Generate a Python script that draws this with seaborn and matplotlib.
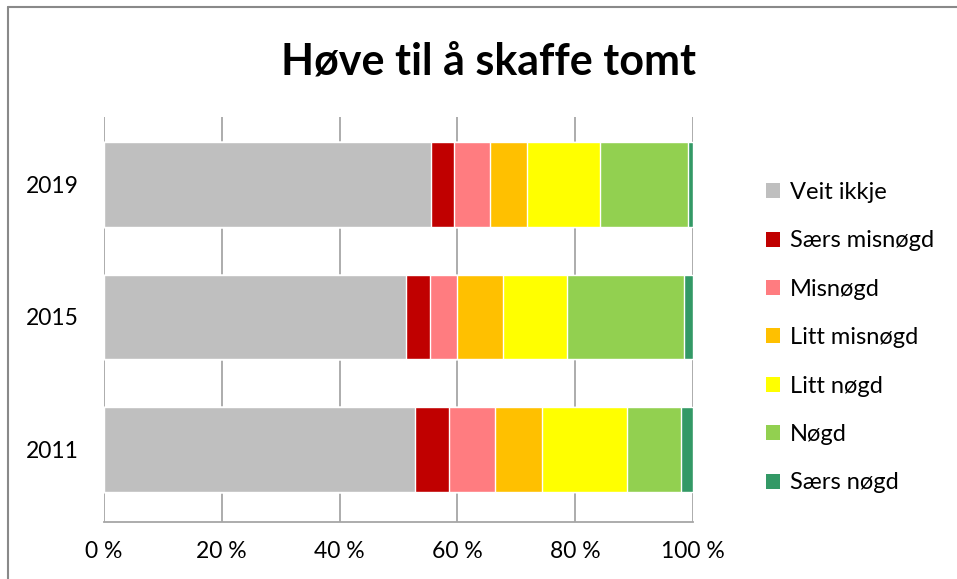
import numpy as np
import pandas as pd
import matplotlib.pyplot as plt
from matplotlib.patches import Patch
from matplotlib.lines import Line2D
import seaborn as sns

# Data (percent of respondents per year)
years = ["2019", "2015", "2011"]
categories = ["Veit ikkje", "Særs misnøgd", "Misnøgd", "Litt misnøgd",
              "Litt nøgd", "Nøgd", "Særs nøgd"]
colors = ["#bfbfbf", "#c00000", "#ff7c80", "#ffc000", "#ffff00", "#92d050", "#339966"]

veit_ikkje = [55.6, 51.3, 52.8]
saers_misnogd = [3.8, 4.0, 5.8]
misnogd = [6.1, 4.7, 7.8]
litt_misnogd = [6.3, 7.7, 8.0]
litt_nogd = [12.4, 10.9, 14.4]
nogd = [14.9, 19.8, 9.2]
saers_nogd = [0.9, 1.6, 2.0]

ticks = [0, 20, 40, 60, 80, 100]
tick_labels = ["0 %", "20 %", "40 %", "60 %", "80 %", "100 %"]

df = pd.DataFrame({
    "Year": years,
    "Veit ikkje": veit_ikkje,
    "Særs misnøgd": saers_misnogd,
    "Misnøgd": misnogd,
    "Litt misnøgd": litt_misnogd,
    "Litt nøgd": litt_nogd,
    "Nøgd": nogd,
    "Særs nøgd": saers_nogd,
})
# normalise each row to 100 %
vals = df[categories]
df[categories] = vals.div(vals.sum(axis=1), axis=0) * 100
cum = df[categories].cumsum(axis=1)

sns.set_style("white")
plt.rcParams["font.family"] = ["Lato", "DejaVu Sans"]
plt.rcParams["text.color"] = "black"
plt.rcParams["xtick.color"] = "black"
plt.rcParams["ytick.color"] = "black"

fig = plt.figure(figsize=(9.57, 5.79), dpi=100)
ax = fig.add_axes([104 / 957, 1 - 522 / 579, 589 / 957, 405 / 579])

# stacked bars: draw cumulative totals from the right-most segment back
for cat, col in reversed(list(zip(categories, colors))):
    sns.barplot(x=cum[cat], y=df["Year"], order=years, orient="h",
                color=col, saturation=1, width=0.64, ax=ax, zorder=2)

ax.set_xlim(0, 100)
ax.set_ylim(2.547, -0.509)
ax.set_xticks(ticks)
ax.set_xticklabels(tick_labels)
ax.set_xlabel("")
ax.set_ylabel("")
ax.xaxis.grid(True, color="#a6a6a6", linewidth=1.3)
ax.yaxis.grid(False)
ax.set_axisbelow(True)
for s in ["top", "right", "left"]:
    ax.spines[s].set_visible(False)
ax.spines["bottom"].set_color("#a6a6a6")
ax.spines["bottom"].set_linewidth(1.3)
ax.tick_params(axis="x", length=0, pad=14, labelsize=16.5)
ax.tick_params(axis="y", length=0, pad=18, labelsize=16.5)

fig.text(0.510, 1 - 62 / 579, "Høve til å skaffe tomt", ha="center", va="center",
         fontsize=31, fontweight="bold")

handles = [Patch(facecolor=c, edgecolor="none", label=l) for l, c in zip(categories, colors)]
fig.legend(handles=handles, loc="upper left", bbox_to_anchor=(766 / 957, 1 - 182 / 579),
           frameon=False, fontsize=17, handlelength=0.6, handleheight=0.6,
           handletextpad=0.4, labelspacing=1.16, borderpad=0, borderaxespad=0)

# chart area outline (only left and top edges fall inside the picture)
fig.add_artist(Line2D([8 / 957, 8 / 957], [0, 1 - 7 / 579], transform=fig.transFigure,
                      color="#898989", linewidth=1.5))
fig.add_artist(Line2D([8 / 957, 1], [1 - 7 / 579, 1 - 7 / 579], transform=fig.transFigure,
                      color="#898989", linewidth=1.5))

fig.savefig("out.png", dpi=100)
